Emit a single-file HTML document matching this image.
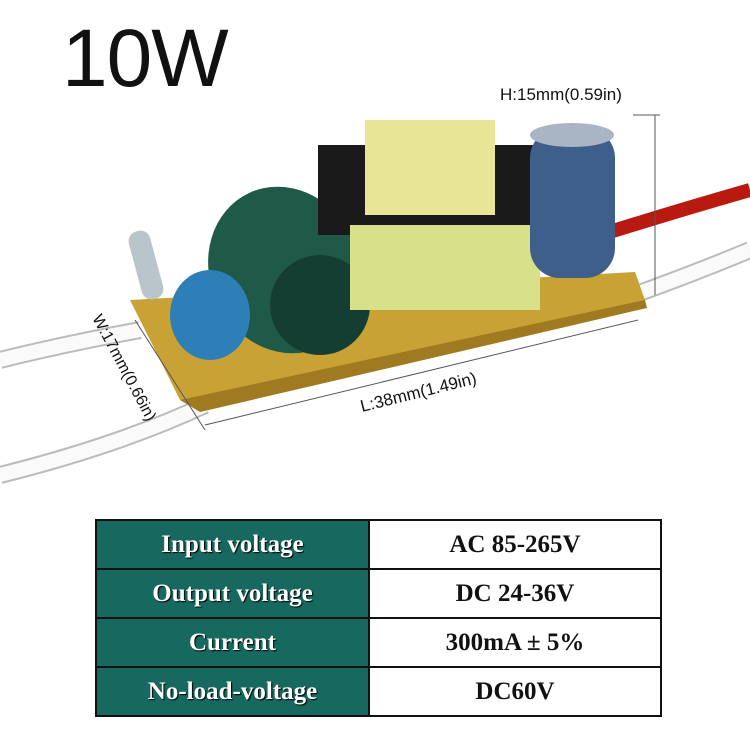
<!DOCTYPE html>
<html><head><style>
body{margin:0;width:750px;height:750px;background:#fff;position:relative;overflow:hidden;font-family:"Liberation Sans",sans-serif}
.t{position:absolute;left:95px;top:519px;border-collapse:collapse;font-family:"Liberation Serif",serif;font-weight:bold}
.t td{border:2px solid #111;height:47px;padding:0;text-align:center;font-size:25px}
.t td.l{background:#17695f;color:#fff;width:271px;text-shadow:1px 1px 1px #000}
.t td.r{width:290px;color:#111}
</style></head><body>
<div style="position:absolute;left:62px;top:12px;font-size:82px;color:#111;letter-spacing:-1px">10W</div>
<svg width="750" height="500" style="position:absolute;left:0;top:0">
<path d="M0 360 Q60 345 140 330" stroke="#bbb" stroke-width="18" fill="none"/>
<path d="M0 360 Q60 345 140 330" stroke="#fafafa" stroke-width="14" fill="none"/>
<path d="M0 475 Q120 445 205 405" stroke="#bbb" stroke-width="18" fill="none"/>
<path d="M0 475 Q120 445 205 405" stroke="#fafafa" stroke-width="14" fill="none"/>
<path d="M600 235 Q680 210 750 190" stroke="#b81a10" stroke-width="14" fill="none"/>
<path d="M620 300 Q690 275 750 250" stroke="#bbb" stroke-width="18" fill="none"/>
<path d="M620 300 Q690 275 750 250" stroke="#fafafa" stroke-width="14" fill="none"/>
<polygon points="130,300 635,272 645,300 200,405 180,400" fill="#c9a236"/>
<polygon points="180,400 645,300 647,308 200,412" fill="#a07a20"/>
<rect x="135" y="230" width="22" height="70" rx="10" fill="#b8c6cc" transform="rotate(-15 146 265)"/>
<ellipse cx="285" cy="270" rx="75" ry="85" fill="#1f5a48" transform="rotate(-25 285 270)"/>
<ellipse cx="320" cy="305" rx="50" ry="50" fill="#153e33"/>
<ellipse cx="210" cy="315" rx="40" ry="45" fill="#2e7fb8"/>
<rect x="318" y="145" width="215" height="90" fill="#1a1a1a"/>
<rect x="365" y="120" width="130" height="95" fill="#e8e596"/>
<rect x="350" y="225" width="190" height="85" fill="#d9e08a"/>
<rect x="530" y="128" width="85" height="150" rx="30" fill="#3e5f8a"/>
<ellipse cx="572" cy="135" rx="42" ry="12" fill="#a9b4c4"/>
<line x1="655" y1="115" x2="655" y2="295" stroke="#555" stroke-width="1"/>
<line x1="633" y1="115" x2="660" y2="115" stroke="#555"/>
<line x1="205" y1="425" x2="638" y2="320" stroke="#555"/>
<line x1="135" y1="320" x2="205" y2="430" stroke="#555"/>
<text x="500" y="100" font-size="17" fill="#111" font-family="Liberation Sans">H:15mm(0.59in)</text>
<text x="362" y="412" font-size="17" fill="#111" font-family="Liberation Sans" transform="rotate(-14 362 412)">L:38mm(1.49in)</text>
<text x="92" y="318" font-size="16" fill="#111" font-family="Liberation Sans" transform="rotate(62 92 318)">W:17mm(0.66in)</text>
</svg>
<table class="t">
<tr><td class="l">Input voltage</td><td class="r">AC 85-265V</td></tr>
<tr><td class="l">Output voltage</td><td class="r">DC 24-36V</td></tr>
<tr><td class="l">Current</td><td class="r">300mA ± 5%</td></tr>
<tr><td class="l">No-load-voltage</td><td class="r">DC60V</td></tr>
</table>
</body></html>
